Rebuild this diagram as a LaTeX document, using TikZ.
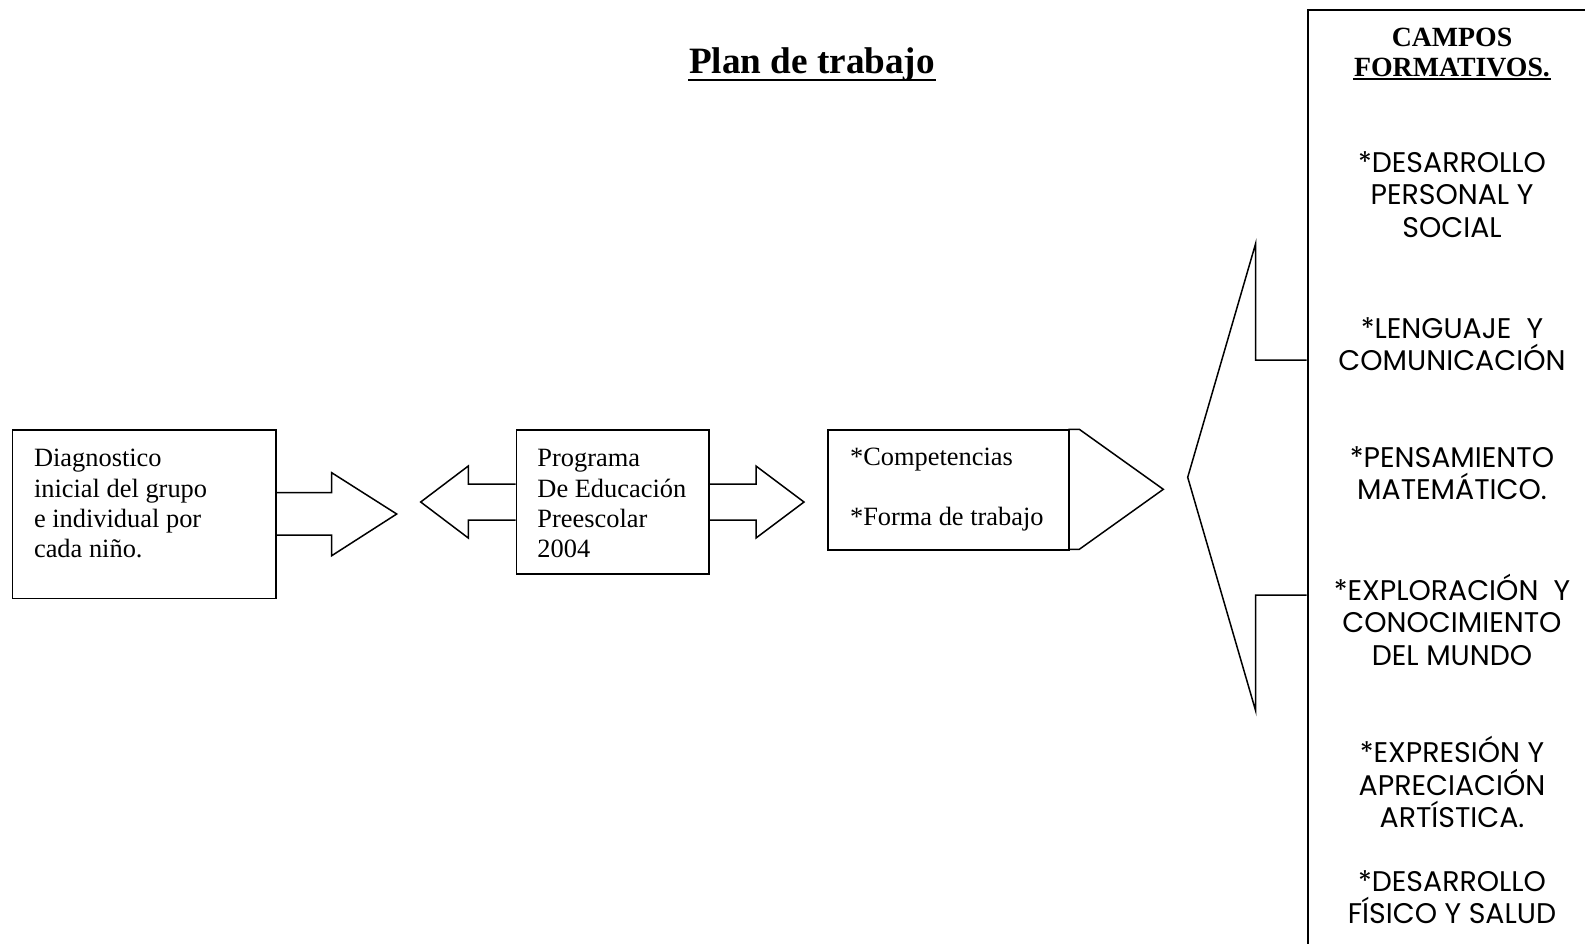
\documentclass[tikz,border=0pt]{standalone}
\usepackage{fontspec}
\setmainfont{Liberation Serif}
\newfontfamily\gothic{Poppins}
\usetikzlibrary{positioning}

\tikzset{
  box/.style={draw, rectangle, inner sep=0pt, anchor=north west},
  blockarrow/.style={draw, line join=miter},
  boxtext/.style={anchor=base west, align=left, inner sep=0pt, font=\fontsize{13.2}{15.15}\selectfont},
  campo/.style={anchor=base, inner sep=0pt, font=\gothic\fontsize{14.2}{15}\selectfont},
  heading/.style={anchor=base, inner sep=0pt, font=\bfseries\fontsize{13.9}{15}\selectfont}
}

\begin{document}
\begin{tikzpicture}[x=0.5pt, y=-0.5pt, line width=0.75pt]
\useasboundingbox (0,0) rectangle (1585,943);
\clip (0,0) rectangle (1585,943);

% title
\node[anchor=base, inner sep=0pt, font=\bfseries\fontsize{18.6}{20}\selectfont] (title) at (812,73.3) {Plan de trabajo};
\draw[line width=1.25pt] ([yshift=-3.4pt]title.base west) -- ([yshift=-3.4pt]title.base east);

% boxes
\node[box, minimum width=131.7pt, minimum height=84.2pt] (diag) at (11.7,429.3) {};
\node[box, minimum width=96.3pt, minimum height=72pt] (prog) at (515.7,429.3) {};
\node[box, minimum width=120.5pt, minimum height=60pt] (comp) at (827.3,429.3) {};
\node[box, minimum width=150pt, minimum height=480pt] (campos) at (1307.3,9.3) {};

% base of a multi-line node = last line
\node[boxtext] (diagtxt) at (33.3,557.6) {Diagnostico\\inicial del grupo\\e individual por\\cada niño.};
\node[boxtext] (progtxt) at (536.7,557.6) {Programa\\De Educación\\Preescolar\\2004};
\node[boxtext] (comptxt) at (849.3,525) {*Competencias\\[14.85pt]*Forma de trabajo};

% block arrows
\draw[blockarrow] (275,492.7) -- (331.7,492.7) -- (331.7,472.7) -- (396.7,514) -- (331.7,555.7) -- (331.7,535) -- (275,535);
\draw[blockarrow] (515.7,484) -- (468.3,484) -- (468.3,466) -- (420.7,502) -- (468.3,538) -- (468.3,520) -- (515.7,520);
\draw[blockarrow] (708.3,484) -- (756,484) -- (756,466) -- (804,502) -- (756,538) -- (756,520) -- (708.3,520);
\draw[blockarrow] (1068.3,429.3) -- (1079.3,429.3) -- (1163.3,489.3) -- (1079.3,549.3) -- (1068.3,549.3);
\draw[blockarrow] (1306.7,360) -- (1255.7,360) -- (1255.7,243.3) -- (1187.7,477.3) -- (1255.7,711) -- (1255.7,595) -- (1306.7,595);

% campos formativos
\node[heading] (camp1) at (1452,46.5) {CAMPOS};
\node[heading] (camp2) at (1452,76) {FORMATIVOS.};
\draw ([yshift=-1.6pt]camp2.base west) -- ([yshift=-1.6pt]camp2.base east);

\foreach \y/\txt [count=\i] in {172/*DESARROLLO, 204.5/PERSONAL Y, 237/SOCIAL,
    338/*LENGUAJE\ \ Y, 370.5/COMUNICACIÓN,
    467.3/*PENSAMIENTO, 499.8/MATEMÁTICO.,
    600.3/*EXPLORACIÓN\ \ Y, 632.8/CONOCIMIENTO, 665.3/DEL MUNDO,
    762.5/*EXPRESIÓN Y, 795/APRECIACIÓN, 827.5/ARTÍSTICA.,
    891/*DESARROLLO, 923.5/FÍSICO Y SALUD}
  \node[campo] (c\i) at (1452,\y) {\txt};

\end{tikzpicture}
\end{document}
